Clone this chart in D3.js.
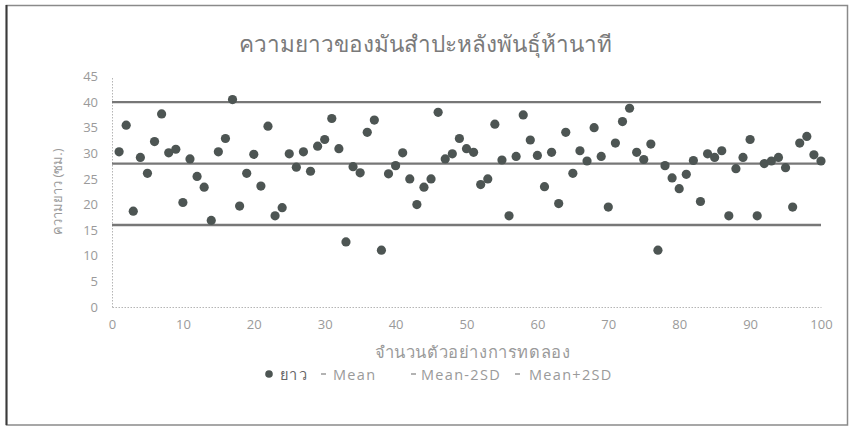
<!DOCTYPE html>
<html>
<head>
<meta charset="utf-8">
<script src="https://cdn.jsdelivr.net/npm/d3@7/dist/d3.min.js"></script>
<style>
  html, body { margin: 0; padding: 0; background: #fff; }
  svg { display: block; }
  text { font-family: "Open Sans", "Noto Sans", "DejaVu Sans", sans-serif; }
</style>
</head>
<body>
<svg id="chart" width="851" height="427"></svg>
<script>
// Sample numbers 1..100
const sampleIds = d3.range(1, 101);

// Root length (cm) of each sample
const lengths = [
  30.3, 35.5, 18.7, 29.2, 26.1, 32.3, 37.7, 30.1, 30.8, 20.4,
  28.9, 25.5, 23.4, 16.9, 30.3, 32.9, 40.5, 19.7, 26.1, 29.8,
  23.6, 35.3, 17.8, 19.4, 29.9, 27.3, 30.3, 26.5, 31.4, 32.7,
  36.8, 30.9, 12.7, 27.4, 26.2, 34.1, 36.5, 11.1, 26.0, 27.6,
  30.1, 25.0, 20.0, 23.4, 25.0, 38.0, 28.9, 29.9, 32.9, 30.9,
  30.2, 23.9, 25.0, 35.7, 28.7, 17.8, 29.4, 37.5, 32.6, 29.6,
  23.5, 30.2, 20.2, 34.1, 26.1, 30.5, 28.5, 35.0, 29.4, 19.5,
  32.0, 36.2, 38.8, 30.2, 28.8, 31.8, 11.1, 27.6, 25.2, 23.1,
  25.9, 28.6, 20.6, 29.9, 29.2, 30.5, 17.8, 27.0, 29.2, 32.7,
  17.8, 28.0, 28.5, 29.2, 27.2, 19.5, 32.0, 33.3, 29.7, 28.5
];

// Reference lines, drawn across the sample range 0..100
const lineX = [0, 100];
const meanLine = [28.0, 28.0];
const meanMinus2SD = [16.0, 16.0];
const meanPlus2SD = [40.0, 40.0];

const seriesNames = ["ยาว", "Mean", "Mean-2SD", "Mean+2SD"];
const xTicks = [0, 10, 20, 30, 40, 50, 60, 70, 80, 90, 100];
const yTicks = [0, 5, 10, 15, 20, 25, 30, 35, 40, 45];

const title = "ความยาวของมันสำปะหลังพันธุ์ห้านาที";
const xTitle = "จำนวนตัวอย่างการทดลอง";
const yTitle = "ความยาว (ซม.)";

const svg = d3.select("#chart");
const plot = { left: 112, right: 821, top: 76.5, bottom: 307 };
const dotColor = "#4d5553";

// Outer chart frame
svg.append("rect")
  .attr("x", 6.5).attr("y", 5.5)
  .attr("width", 841).attr("height", 419.5)
  .attr("fill", "#fff")
  .attr("stroke", "#8a8a8a").attr("stroke-width", 1.5);
svg.append("line")
  .attr("x1", 6.5).attr("x2", 6.5).attr("y1", 5).attr("y2", 425)
  .attr("stroke", "#3a3a3a").attr("stroke-width", 2);

const x = d3.scaleLinear().domain([0, 100]).range([plot.left, plot.right]);
const y = d3.scaleLinear().domain([0, 45]).range([plot.bottom, plot.top]);

// Title
svg.append("text")
  .attr("x", 425).attr("y", 43)
  .attr("text-anchor", "middle").attr("dominant-baseline", "central")
  .attr("font-size", 22.5).attr("font-weight", 300).attr("fill", "#7a7a7a")
  .text(title);

// Axes (no tick marks, light dotted lines)
const yAxis = d3.axisLeft(y).tickValues(yTicks).tickSize(0).tickPadding(14);
const gy = svg.append("g").attr("transform", `translate(${plot.left},0)`).call(yAxis);
gy.select(".domain").attr("stroke", "#b5b5b5").attr("stroke-dasharray", "1.5,1.5");
gy.selectAll("text").attr("font-size", 13).attr("fill", "#9a9a9a")
  .attr("font-family", "'Open Sans', sans-serif");

const xAxis = d3.axisBottom(x).tickValues(xTicks).tickSize(0).tickPadding(13);
const gx = svg.append("g").attr("transform", `translate(0,${plot.bottom})`).call(xAxis);
gx.select(".domain").attr("stroke", "#b5b5b5").attr("stroke-dasharray", "1.5,1.5");
gx.selectAll("text").attr("font-size", 13).attr("fill", "#9a9a9a")
  .attr("font-family", "'Open Sans', sans-serif");

// Axis titles
svg.append("text")
  .attr("x", (plot.left + plot.right) / 2 + 6).attr("y", 351)
  .attr("text-anchor", "middle").attr("dominant-baseline", "central")
  .attr("font-size", 16.5).attr("font-weight", 300).attr("letter-spacing", 0.6)
  .attr("fill", "#9a9a9a")
  .text(xTitle);
svg.append("text")
  .attr("transform", `translate(57,${(plot.top + plot.bottom) / 2}) rotate(-90)`)
  .attr("text-anchor", "middle").attr("dominant-baseline", "central")
  .attr("font-size", 13).attr("fill", "#9a9a9a")
  .text(yTitle);

// Reference lines
const refLine = d3.line().x(d => x(d[0])).y(d => y(d[1]));
[meanLine, meanMinus2SD, meanPlus2SD].forEach(vals => {
  svg.append("path")
    .datum(lineX.map((v, i) => [v, vals[i]]))
    .attr("d", refLine)
    .attr("fill", "none")
    .attr("stroke", "#777")
    .attr("stroke-width", 2.4);
});

// Sample points
svg.append("g").selectAll("circle")
  .data(sampleIds.map((id, i) => [id, lengths[i]]))
  .join("circle")
  .attr("cx", d => x(d[0]))
  .attr("cy", d => y(d[1]))
  .attr("r", 4.6)
  .attr("fill", dotColor);

// Legend
const legendY = 374;
const lg = svg.append("g").attr("font-size", 14.5).attr("letter-spacing", 1.3).attr("fill", "#9a9a9a");
lg.append("circle").attr("cx", 269).attr("cy", legendY).attr("r", 3.8).attr("fill", dotColor);
lg.append("text").attr("x", 280).attr("y", legendY).attr("dominant-baseline", "central")
  .attr("fill", "#666").text(seriesNames[0]);
const lineKeys = [[321, 333], [411, 421], [515, 529]];
lineKeys.forEach(([mx, tx], i) => {
  lg.append("line").attr("x1", mx).attr("x2", mx + 5)
    .attr("y1", legendY).attr("y2", legendY)
    .attr("stroke", "#9a9a9a").attr("stroke-width", 1.5);
  lg.append("text").attr("x", tx).attr("y", legendY).attr("dominant-baseline", "central")
    .text(seriesNames[i + 1]);
});
</script>
</body>
</html>
